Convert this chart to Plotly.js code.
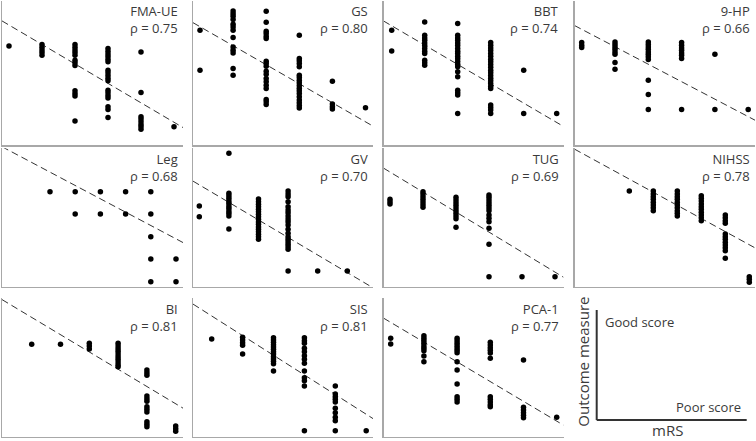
<!DOCTYPE html>
<html>
<head>
<meta charset="utf-8">
<script src="https://cdn.plot.ly/plotly-3.0.1.min.js"></script>
<style>html,body{margin:0;padding:0;background:#fff;}#chart{width:756px;height:441px;}</style>
</head>
<body>
<div id="chart"></div>
<script>
// ---------------- DATA ----------------
const panelNames = ["FMA-UE","GS","BBT","9-HP","Leg","GV","TUG","NIHSS","BI","SIS","PCA-1"];
const rhoValues  = ["0.75","0.80","0.74","0.66","0.68","0.70","0.69","0.78","0.81","0.81","0.77"];
const mRS = [0,1,2,3,4,5];

// outcome values (arbitrary scale, higher = better) grouped by mRS level 0..5
const fmaUE = [[298],[302,294,286,278,270],[302,294,286,278,270,255,247,239,163,155,147,72],
  [290,282,274,266,258,250,225,217,209,201,193,165,157,149,141,115,107,83],[280,158,85,78,70,62,55,47],[55]];
const gs = [[345,225],[403,395,387,377,363,355,345,323,295,285,277,230,210],
  [402,369,342,335,327,320,252,245,237,222,213,200,190,180,170,137,130,122],
  [330,260,253,245,235,210,203,195,187,179,171,163,155,145,135,127,119,111],[192,123,115,108],[112]];
const bbt = [[345,283],[370,330,322,315,307,299,290,282,275,255,247,240],
  [365,330,322,315,307,299,290,282,275,267,259,251,243,235,220,205,165,157,150,95],
  [308,300,292,284,275,267,258,250,242,234,225,217,209,201,193,185,177,170,120,113,105,95],[225,95],[95]];
const hp9 = [[308,300,293],[310,302,295,288,280,273,248,228],[310,302,295,288,280,273,265,257,195,152,107],
  [308,300,292,285,277,270,260,107],[273,107],[107]];
const leg = [[285],[285,218],[285,218],[285,218],[285,218,150,83,15],[83,15]];
const gv = [[242,210],[400,280,273,265,257,250,242,235,227,220,212,173],
  [263,255,247,240,232,225,217,210,202,194,187,179,172,165,157,150,142],
  [287,278,270,255,240,230,222,212,203,195,185,172,160,150,142,135,127,120,112,47],[47],[47]];
const tug = [[262,255,248],[285,278,270,262,254,246,238],[268,260,252,244,236,228,220,212,204,178],
  [275,268,260,252,244,236,228,215,205,195,175,127,30],[30],[30]];
const nihss = [[287],[287,278,270,262,253,245,237,228],[287,278,270,262,253,245,237,228,220,212],
  [273,265,257,248,240,232,223,215,207,198],[215,207,198,190,158,150,142,133,125,117,108,85],[30,22,13]];
const bi = [[277],[277],[280,272,263],[280,272,264,256,248,240,232,224,216,210],
  [200,192,184,122,114,106,90,82,74,45,37,30],[32,24,16]];
const sis = [[293],[298,290,282,274,248],[297,290,283,276,269,262,255,248,240,233,226,219,197],
  [297,288,280,265,255,243,232,220,197,177,168,152,18],[152,128,120,112,104,85,72,58,48,18],[18]];
const pca1 = [[295,278],[303,295,288,280,272,265,258,242,225],
  [295,288,280,273,266,259,252,225,200,158,120,112,104],[283,275,267,259,251,235,120,112,104,96,90],
  [230,88,80,72,64,57],[58]];
const panelData = [fmaUE,gs,bbt,hp9,leg,gv,tug,nihss,bi,sis,pca1];

// fitted regression line value at mRS 0 and at mRS 5
const fitAt0 = [360.7,355.7,358.5,347.9,343.5,305.4,343.8,322.6,357.7,362.0,342.8];
const fitAt5 = [68.4,69.7,67.8,85.3,143.5,42.4,43.8,125.8,98.7,67.3,46.8];

// ---------------- LAYOUT GEOMETRY ----------------
const W = 756, H = 441;
const COLS = [[2,183],[193,373],[383.5,563.5],[574.5,755]];
const ROWS = [[0.5,145],[148.3,286.7],[298.3,436.7]];
const yMax = [434.5,415,415];
const x0px = [9,200,391.7,581.7,50,199.3,390,629.3,31.7,211.7,390.7];
const stepPx = [33,33.1,33,33.3,25.2,29.6,33,24,28.8,30.9,33.2];
const AXIS_COLOR = '#a8a8a8';
const TEXT_COLOR = '#3a3a3a';
const FONT = 'Open Sans, Noto Sans, sans-serif';

const traces = [];
const layout = {
  width: W, height: H, margin: {l:0,r:0,t:0,b:0},
  paper_bgcolor: '#fff', plot_bgcolor: '#fff', showlegend: false,
  annotations: [], shapes: []
};

panelNames.forEach((name, i) => {
  const col = i % 4, row = Math.floor(i / 4);
  const [L, R] = COLS[col];
  const [T, B] = ROWS[row];
  const xr = [(L - x0px[i]) / stepPx[i], (R - x0px[i]) / stepPx[i]];
  const sfx = i === 0 ? '' : String(i + 1);
  layout['xaxis' + sfx] = {
    domain: [L / W, R / W], range: xr, anchor: 'y' + sfx,
    showline: true, linecolor: AXIS_COLOR, linewidth: 1.5,
    showgrid: false, zeroline: false, showticklabels: false, ticks: '', fixedrange: true
  };
  layout['yaxis' + sfx] = {
    domain: [1 - B / H, 1 - T / H], range: [0, yMax[row]], anchor: 'x' + sfx,
    showline: true, linecolor: AXIS_COLOR, linewidth: 1.5,
    showgrid: false, zeroline: false, showticklabels: false, ticks: '', fixedrange: true
  };
  const xs = [], ys = [];
  panelData[i].forEach((vals, k) => vals.forEach(v => { xs.push(mRS[k]); ys.push(v); }));
  const slope = (fitAt5[i] - fitAt0[i]) / 5;
  traces.push({
    x: [xr[0], xr[1]], y: [fitAt0[i] + slope * xr[0], fitAt0[i] + slope * xr[1]],
    xaxis: 'x' + sfx, yaxis: 'y' + sfx, mode: 'lines', hoverinfo: 'skip',
    line: {color: '#333', width: 1, dash: '7px,4px'}, cliponaxis: true
  });
  traces.push({
    x: xs, y: ys, xaxis: 'x' + sfx, yaxis: 'y' + sfx, mode: 'markers',
    marker: {color: '#000', size: 5.5}, cliponaxis: false
  });
  layout.annotations.push({
    xref: 'paper', yref: 'paper', x: (R - 4) / W, y: 1 - (T + 19) / H,
    xanchor: 'right', yanchor: 'middle', align: 'right', showarrow: false,
    text: name + '<br>\u03c1 = ' + rhoValues[i], borderpad: 0,
    font: {family: FONT, size: 13, color: TEXT_COLOR}
  });
});

// explanatory key panel (bottom right)
const KEY = {L: 596.7, R: 746.7, T: 310, B: 420};
layout.shapes.push({type:'line', xref:'paper', yref:'paper', x0:KEY.L/W, x1:KEY.L/W, y0:1-KEY.T/H, y1:1-KEY.B/H, line:{color:'#333', width:2}});
layout.shapes.push({type:'line', xref:'paper', yref:'paper', x0:KEY.L/W, x1:KEY.R/W, y0:1-KEY.B/H, y1:1-KEY.B/H, line:{color:'#333', width:2}});
layout.annotations.push({xref:'paper', yref:'paper', x:603.3/W, y:1-321.7/H, xanchor:'left', yanchor:'middle', showarrow:false, text:'Good score', font:{family:FONT, size:13, color:TEXT_COLOR}});
layout.annotations.push({xref:'paper', yref:'paper', x:743.3/W, y:1-407.3/H, xanchor:'right', yanchor:'middle', showarrow:false, text:'Poor score', font:{family:FONT, size:13, color:TEXT_COLOR}});
layout.annotations.push({xref:'paper', yref:'paper', x:583/W, y:1-361.7/H, xanchor:'center', yanchor:'middle', showarrow:false, textangle:-90, text:'Outcome measure', font:{family:FONT, size:15, color:TEXT_COLOR}});
layout.annotations.push({xref:'paper', yref:'paper', x:667.3/W, y:0, xanchor:'center', yanchor:'bottom', borderpad:0, showarrow:false, text:'mRS', font:{family:FONT, size:15, color:TEXT_COLOR}});

Plotly.newPlot('chart', traces, layout, {staticPlot: true, displayModeBar: false});
</script>
</body>
</html>
